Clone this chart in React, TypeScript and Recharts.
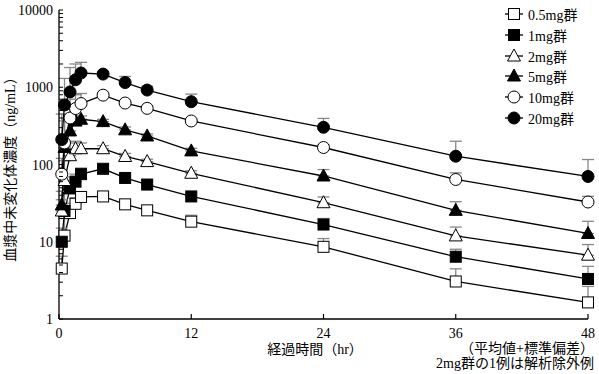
import { LineChart, Line, XAxis, YAxis, ErrorBar, Legend } from 'recharts';

const FONT = "'Liberation Serif', 'Noto Sans CJK JP', serif";

// 経過時間 (hr)
const times = [0.25, 0.5, 1, 1.5, 2, 4, 6, 8, 12, 24, 36, 48];

// 平均値
const mg05 = [4.5, 12, 23.5, 31, 38, 38.6, 30.5, 25.5, 18.2, 8.6, 3.06, 1.64];
const mg1 = [10, 25, 49, 60, 75, 88, 67, 55, 38.6, 16.7, 6.4, 3.3];
const mg2 = [25, 62, 130, 160, 160, 160, 127, 109, 77, 32, 11.9, 6.7];
const mg5 = [30, 166, 272, 365, 385, 359, 281, 234, 150, 71, 25.5, 12.8];
const mg10 = [75, 190, 400, 530, 615, 790, 625, 533, 366, 166, 64, 32.7];
const mg20 = [210, 590, 870, 1250, 1530, 1480, 1150, 920, 650, 303, 128, 70];

// 標準偏差 (上側のみ)
const sd05 = [2, 8, 8, 6, 5, 3, 3, 2, 3.8, 2.4, 1.4, 1.0];
const sd1 = [5, 20, 20, 15, 15, 10, 6, 5, 3, 3.3, 1.6, 1.5];
const sd2 = [10, 50, 60, 40, 30, 15, 12, 8, 6, 6, 3.6, 2.5];
const sd5 = [15, 200, 100, 60, 40, 25, 25, 15, 12, 15, 7.5, 5.6];
const sd10 = [45, 260, 300, 270, 215, 60, 40, 30, 25, 15, 14, 6];
const sd20 = [240, 710, 930, 750, 570, 120, 230, 110, 165, 92, 72, 46];

const xTicks = [0, 12, 24, 36, 48];
const yMajor = [1, 10, 100, 1000, 10000];
const yTicks = [
  1, 2, 3, 4, 5, 6, 7, 8, 9,
  10, 20, 30, 40, 50, 60, 70, 80, 90,
  100, 200, 300, 400, 500, 600, 700, 800, 900,
  1000, 2000, 3000, 4000, 5000, 6000, 7000, 8000, 9000,
  10000,
];

const series = [
  { key: 'd05', name: '0.5mg群', kind: 'sq-open', mean: mg05, sd: sd05 },
  { key: 'd1', name: '1mg群', kind: 'sq-fill', mean: mg1, sd: sd1 },
  { key: 'd2', name: '2mg群', kind: 'tri-open', mean: mg2, sd: sd2 },
  { key: 'd5', name: '5mg群', kind: 'tri-fill', mean: mg5, sd: sd5 },
  { key: 'd10', name: '10mg群', kind: 'circ-open', mean: mg10, sd: sd10 },
  { key: 'd20', name: '20mg群', kind: 'circ-fill', mean: mg20, sd: sd20 },
];

const data = times.map((t, i) => {
  const row: { [k: string]: any } = { t };
  series.forEach((s) => {
    row[s.key] = s.mean[i];
    row[s.key + 'e'] = [0, s.sd[i]];
  });
  return row;
});

const Marker = ({ kind, cx, cy }: { kind: string; cx: number; cy: number }) => {
  const fill = kind.endsWith('fill') ? '#000' : '#fff';
  if (kind.startsWith('sq')) {
    return <rect x={cx - 5.5} y={cy - 5.5} width={11} height={11} fill={fill} stroke="#000" strokeWidth={1} />;
  }
  if (kind.startsWith('tri')) {
    return (
      <polygon
        points={`${cx},${cy - 7} ${cx - 6.5},${cy + 5} ${cx + 6.5},${cy + 5}`}
        fill={fill}
        stroke="#000"
        strokeWidth={1}
      />
    );
  }
  return <circle cx={cx} cy={cy} r={6} fill={fill} stroke="#000" strokeWidth={1} />;
};

const XTick = ({ x, y, payload }: any) => (
  <g>
    <line x1={x} x2={x} y1={y} y2={y - 5} stroke="#000" strokeWidth={1.2} />
    <text x={x} y={y + 19} textAnchor="middle" fontSize={14} fontFamily={FONT} fill="#000">
      {payload.value}
    </text>
  </g>
);

const YTick = ({ x, y, payload }: any) => {
  const major = yMajor.includes(payload.value);
  return (
    <g>
      <line x1={x} x2={x + 4} y1={y} y2={y} stroke="#000" strokeWidth={1} />
      {major && (
        <text x={x - 6} y={y + 5} textAnchor="end" fontSize={14} fontFamily={FONT} fill="#000">
          {payload.value}
        </text>
      )}
    </g>
  );
};

const LegendBox = () => (
  <div style={{ fontFamily: FONT, fontSize: 14, color: '#000' }}>
    {series.map((s) => (
      <div key={s.key} style={{ display: 'flex', alignItems: 'center', height: 20.7 }}>
        <svg width={22} height={16} style={{ marginRight: 3 }}>
          <line x1={2} x2={20} y1={8} y2={8} stroke="#000" strokeWidth={1.3} />
          <Marker kind={s.kind} cx={11} cy={8} />
        </svg>
        <span>{s.name}</span>
      </div>
    ))}
  </div>
);

export default function App() {
  return (
    <div style={{ position: 'absolute', left: 0, top: 0, width: 599, height: 374, background: '#fff' }}>
      <LineChart
        width={599}
        height={374}
        data={data}
        margin={{ top: 10, right: 11, left: 0, bottom: 35 }}
        style={{ fontFamily: FONT }}
      >
        <XAxis
          dataKey="t"
          type="number"
          domain={[0, 48]}
          ticks={xTicks}
          interval={0}
          height={20}
          tickSize={0}
          tickMargin={0}
          tick={<XTick />}
          axisLine={{ stroke: '#000', strokeWidth: 1.3 }}
          label={{
            content: () => (
              <text x={315} y={354} textAnchor="middle" fontSize={14} fontFamily={FONT} fill="#000">
                経過時間（hr）
              </text>
            ),
          }}
        />
        <YAxis
          type="number"
          scale="log"
          domain={[1, 10000]}
          allowDataOverflow
          ticks={yTicks}
          interval={0}
          width={59}
          tickSize={0}
          tickMargin={0}
          tick={<YTick />}
          axisLine={{ stroke: '#000', strokeWidth: 1.3 }}
          label={{
            content: () => (
              <text
                transform="translate(15,166) rotate(-90)"
                textAnchor="middle"
                fontSize={14}
                fontFamily={FONT}
                fill="#000"
              >
                血漿中未変化体濃度（ng/mL）
              </text>
            ),
          }}
        />
        <Legend
          layout="horizontal"
          align="center"
          verticalAlign="middle"
          content={<LegendBox />}
          wrapperStyle={{ position: 'absolute', left: 503, top: 4, width: 96 }}
        />
        {series.map((s) => (
          <Line
            key={s.key}
            dataKey={s.key}
            name={s.name}
            type="linear"
            stroke="#000"
            strokeWidth={1.3}
            isAnimationActive={false}
            dot={(p: any) => <Marker key={`${s.key}-${p.index}`} kind={s.kind} cx={p.cx} cy={p.cy} />}
          >
            <ErrorBar dataKey={s.key + 'e'} direction="y" width={6} stroke="#888" strokeWidth={1.3} />
          </Line>
        ))}
      </LineChart>
      <div
        style={{
          position: 'absolute',
          right: 5,
          top: 341,
          textAlign: 'right',
          fontFamily: FONT,
          fontSize: 14,
          lineHeight: '15px',
          color: '#000',
        }}
      >
        <div>（平均値+標準偏差）</div>
        <div>2mg群の1例は解析除外例</div>
      </div>
    </div>
  );
}
